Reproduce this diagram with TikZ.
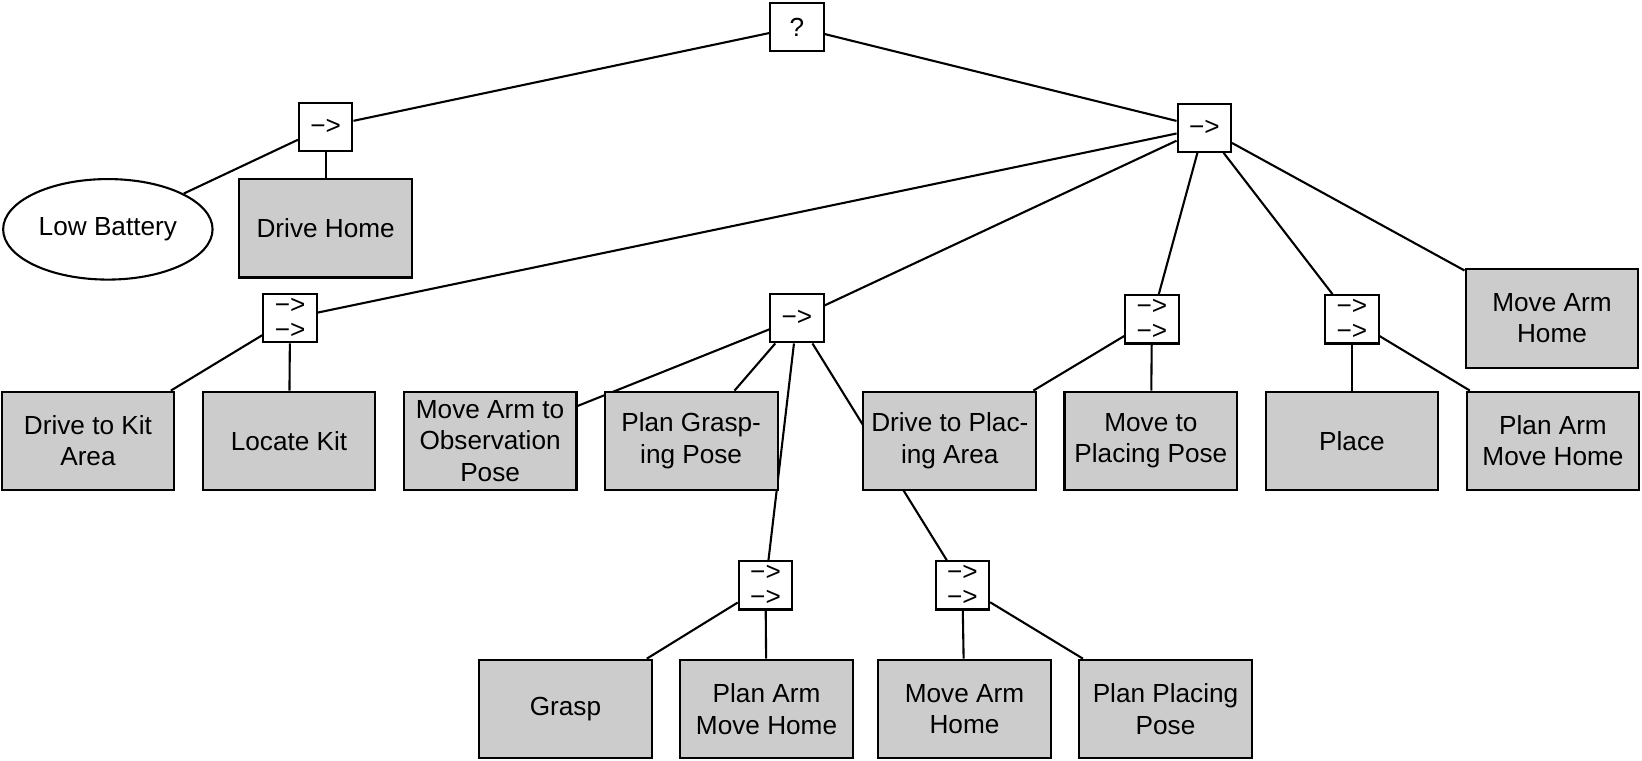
\documentclass[tikz,border=0pt]{standalone}
\usepackage{fontspec}
\setmainfont{Liberation Sans}
\usetikzlibrary{shapes.geometric, positioning, backgrounds}
\definecolor{boxgray}{RGB}{204,204,204}
\tikzset{
	node distance=96pt, % centre to centre distance of neighbouring leaves
	every node/.style={font=\fontsize{12.5}{15}\selectfont}, % text size of all nodes
	action/.style={draw, fill=boxgray, minimum width=82.5pt, minimum height=47pt, align=center, inner sep=2pt}, % grey action leaves
	condition/.style={draw, ellipse, fill=white, minimum width=100pt, minimum height=48pt, inner sep=2pt}, % condition leaf
	control/.style={draw, fill=white, minimum width=25.5pt, minimum height=23pt, align=center, inner sep=1pt, font=\fontsize{12.5}{11.5}\selectfont}, % sequence and fallback boxes
}

\begin{document}
\begin{tikzpicture}[x=0.5pt, y=-0.5pt, line width=1pt]
	\useasboundingbox (0,0) rectangle (1568,725.8);
			\node[control] (root) at (761,26) {?};
			\node[control] (seqbat) at (311,121) {−>};
			\node[condition] (lowbat) at (103,219) {Low Battery};
			\node[action] (drivehome) at (311,218) {Drive Home};
			\node[control] (seqtask) at (1150,122) {−>};
			\node[action] (armhome) at (1482,304) {Move Arm\\Home};

			\node[control] (seqkit) at (277,304) {−>\\−>};
			\node[control] (seqpick) at (761,304) {−>};
			\node[control] (seqmove) at (1100,305) {−>\\−>};
			\node[control] (seqplace) at (1291,305) {−>\\−>};

			\node[action] (drivekit) at (84,421) {Drive to Kit\\Area};
			\node[action, right of=drivekit] (locatekit) {Locate Kit};
			\node[action, right of=locatekit] (observe) {Move Arm to\\Observation\\Pose};
			\node[action, right of=observe] (plangrasp) {Plan Grasp-\\ing Pose};
			\node[action] (driveplace) at (907,421) {Drive to Plac-\\ing Area};
			\node[action, right of=driveplace] (moveplace) {Move to\\Placing Pose};
			\node[action, right of=moveplace] (place) {Place};
			\node[action, right of=place] (planhome) {Plan Arm\\Move Home};

			\node[control] (seqgrasp) at (731,559) {−>\\−>};
			\node[control] (seqdrop) at (919,559) {−>\\−>};
			\node[action] (grasp) at (540,677) {Grasp};
			\node[action, right of=grasp] (planhome2) {Plan Arm\\Move Home};
			\node[action] (armhome2) at (921,677) {Move Arm\\Home};
			\node[action, right of=armhome2] (planplace) {Plan Placing\\Pose};
	\begin{scope}[on background layer]
	\draw[line width=1pt]
			(root) edge (seqbat)
			(root) edge (seqtask)
			(seqbat) edge (lowbat)
			(seqbat) edge (drivehome)
			(seqtask) edge (seqkit)
			(seqtask) edge (seqpick)
			(seqtask) edge (seqmove)
			(seqtask) edge (seqplace)
			(seqtask) edge (armhome)
			(seqkit) edge (drivekit)
			(seqkit) edge (locatekit)
			(seqpick) edge (observe)
			(seqpick) edge (plangrasp)
			(seqpick) edge (seqgrasp)
			(seqpick) edge (seqdrop)
			(seqmove) edge (driveplace)
			(seqmove) edge (moveplace)
			(seqplace) edge (place)
			(seqplace) edge (planhome)
			(seqgrasp) edge (grasp)
			(seqgrasp) edge (planhome2)
			(seqdrop) edge (armhome2)
			(seqdrop) edge (planplace);
	\end{scope}
\end{tikzpicture}
\end{document}
